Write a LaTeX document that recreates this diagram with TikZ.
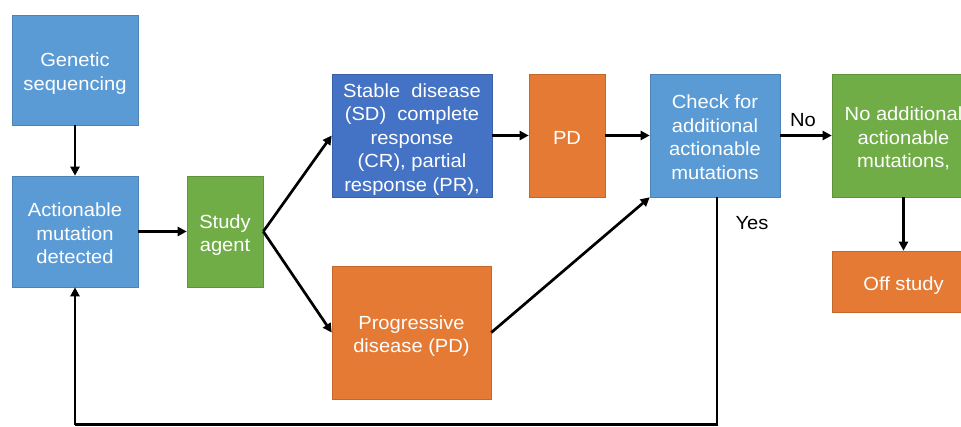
\documentclass[tikz,border=0pt]{standalone}
\usepackage{fontspec}
\setmainfont{Liberation Sans}[FakeStretch=1.06]
\usetikzlibrary{arrows.meta}
\definecolor{lblue}{HTML}{5B9BD5}
\definecolor{dblue}{HTML}{4472C4}
\definecolor{mgreen}{HTML}{70AD47}
\definecolor{morange}{HTML}{E47A34}
\newcommand{\bt}[1]{\raisebox{-4pt}[\height][\depth]{\begin{tabular}{@{}c@{}}#1\end{tabular}}}
\tikzset{
  box/.style={rectangle, draw=#1!85!black, line width=0.6pt, fill=#1, text=white,
    align=center, inner sep=2pt, font=\fontsize{19}{23.5}\selectfont},
  conn/.style={line width=2.7pt, draw=black, -{Triangle[length=9pt,width=9pt]}},
  plain/.style={line width=2.7pt, draw=black},
  lbl/.style={font=\fontsize{19}{23.5}\selectfont, text=black}
}
\begin{document}
\begin{tikzpicture}[x=1pt,y=-1pt]
\useasboundingbox (0,0) rectangle (961,427);
\node[box=lblue, minimum width=126pt, minimum height=110pt] (gen) at (75,70) {\bt{Genetic\\sequencing}};
\node[box=lblue, minimum width=126pt, minimum height=111pt] (act) at (75,231.5) {\bt{Actionable\\mutation\\detected}};
\node[box=mgreen, minimum width=76pt, minimum height=111pt] (study) at (225,231.5) {\bt{Study\\agent}};
\node[box=dblue, minimum width=160pt, minimum height=123pt] (stable) at (412,135.5) {\bt{Stable~~disease\\(SD)~~complete\\response\\(CR), partial\\response (PR),}};
\node[box=morange, minimum width=76pt, minimum height=123pt] (pd) at (567,135.5) {\bt{PD}};
\node[box=lblue, minimum width=130pt, minimum height=123pt] (check) at (715,135.5) {\bt{Check for\\additional\\actionable\\mutations}};
\node[box=mgreen, minimum width=143pt, minimum height=123pt] (noadd) at (903.5,135.5) {\bt{No additional\\actionable\\mutations,}};
\node[box=morange, minimum width=143pt, minimum height=61pt] (off) at (903.5,281.5) {\bt{Off study}};
\node[box=morange, minimum width=159pt, minimum height=133pt] (prog) at (411.5,332.5) {\bt{Progressive\\disease (PD)}};

\draw[conn] (gen) -- (act);
\draw[conn] (act) -- (study);
\draw[conn] (study.east) -- (stable.west);
\draw[conn] (study.east) -- (prog.west);
\draw[conn] (stable) -- (pd);
\draw[conn] (pd) -- (check);
\draw[conn] (check) -- (noadd);
\draw[conn] (prog.east) -- (check.south west);
\draw[conn] (noadd) -- (off);
\coordinate (c1) at ([xshift=2pt]check.south |- 0,424.5);
\coordinate (c2) at (act.south |- 0,424.5);
\draw[plain, line join=miter] ([xshift=2pt]check.south) -- (c1) -- (c2);
\draw[conn] (c2) -- (act.south);

\node[lbl] (no) at (803,120) {No};
\node[lbl] (yes) at (752,223) {Yes};
\end{tikzpicture}
\end{document}
